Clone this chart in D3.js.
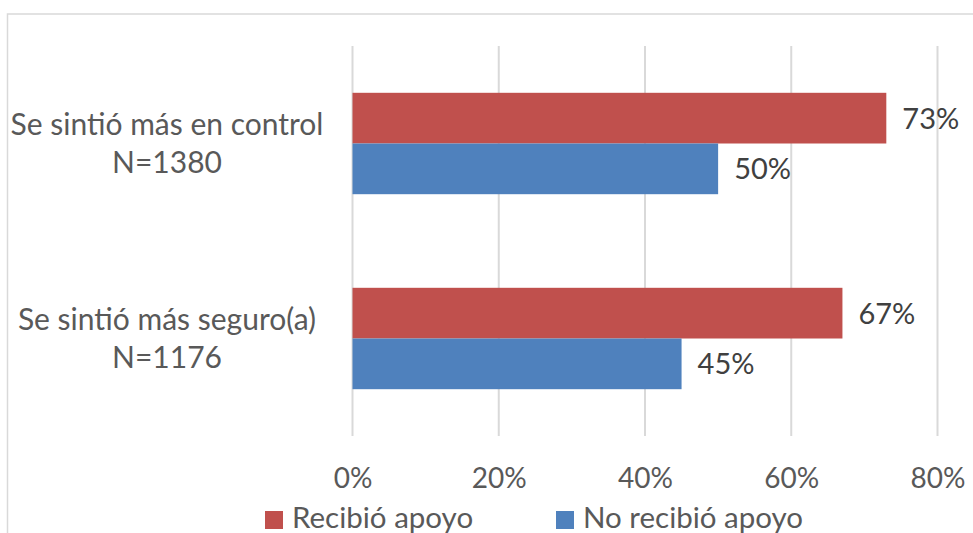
<!DOCTYPE html>
<html>
<head>
<meta charset="utf-8">
<script src="https://cdn.jsdelivr.net/npm/d3@7"></script>
<style>
  html, body { margin: 0; padding: 0; background: #fff; overflow: hidden; }
  svg { display: block; }
  text { font-family: Lato, "Open Sans", sans-serif; }
</style>
</head>
<body>
<svg id="chart" width="973" height="533"></svg>
<script>
// Category labels (two lines each), top to bottom
const categories = ["Se sintió más en control", "Se sintió más seguro(a)"];
const categoryN = ["N=1380", "N=1176"];
// Series
const seriesNames = ["Recibió apoyo", "No recibió apoyo"];
const seriesColors = ["#C0504D", "#4F81BD"];
const recibio = [73, 67];
const noRecibio = [50, 45];
const tickValues = [0, 20, 40, 60, 80];

const svg = d3.select("#chart");

// Chart frame
svg.append("rect")
  .attr("x", 7.5).attr("y", 14)
  .attr("width", 980).attr("height", 540)
  .attr("fill", "none").attr("stroke", "#d9d9d9").attr("stroke-width", 1.5);

const plot = { left: 352.5, right: 937.5, top: 46, bottom: 436 };

const x = d3.scaleLinear().domain([0, 80]).range([plot.left, plot.right]);
const y = d3.scaleBand().domain(categories).range([plot.top, plot.bottom]).paddingInner(0.48).paddingOuter(0.24);
const ySub = d3.scaleBand().domain(seriesNames).range([0, y.bandwidth()]);

// Vertical gridlines
svg.append("g").selectAll("line").data(tickValues).join("line")
  .attr("x1", d => x(d)).attr("x2", d => x(d))
  .attr("y1", plot.top).attr("y2", plot.bottom)
  .attr("stroke", "#d9d9d9").attr("stroke-width", 2);

// Tick labels
const xAxis = d3.axisBottom(x).tickValues(tickValues).tickFormat(d => d + "%").tickSize(0).tickPadding(0);
const ax = svg.append("g").attr("transform", `translate(0,${plot.bottom})`).call(xAxis);
ax.select(".domain").remove();
ax.selectAll("text")
  .attr("y", 52).attr("dy", null)
  .attr("fill", "#595959")
  .style("font-size", "28px")
  .style("font-family", "Lato, sans-serif");

// Bars
const rows = categories.map((c, i) => ({ cat: c, vals: [recibio[i], noRecibio[i]] }));
const groups = svg.append("g").selectAll("g").data(rows).join("g")
  .attr("transform", d => `translate(0,${y(d.cat)})`);

groups.selectAll("rect").data(d => d.vals.map((v, j) => ({ v, s: seriesNames[j], c: seriesColors[j] })))
  .join("rect")
  .attr("x", x(0))
  .attr("y", d => ySub(d.s))
  .attr("width", d => x(d.v) - x(0))
  .attr("height", ySub.bandwidth())
  .attr("fill", d => d.c);

// Value labels
groups.selectAll("text.val").data(d => d.vals.map((v, j) => ({ v, s: seriesNames[j] })))
  .join("text").attr("class", "val")
  .attr("x", d => x(d.v) + 16)
  .attr("y", d => ySub(d.s) + ySub.bandwidth() / 2)
  .attr("dy", "0.36em")
  .attr("fill", "#404040")
  .style("font-size", "29px")
  .text(d => d.v + "%");

// Category labels
const catG = svg.append("g").selectAll("text").data(categories).join("text")
  .attr("text-anchor", "middle")
  .attr("x", 167)
  .attr("y", d => y(d) + y.bandwidth() / 2)
  .attr("fill", "#595959")
  .style("font-size", "30px");
catG.append("tspan").attr("x", 167).attr("dy", "-0.28em").text(d => d);
catG.append("tspan").attr("x", 167).attr("dy", "1.27em").text((d, i) => categoryN[i]);

// Legend
const legendX = [265, 556];
const lg = svg.append("g").selectAll("g").data(seriesNames).join("g")
  .attr("transform", (d, i) => `translate(${legendX[i]},511)`);
lg.append("rect").attr("width", 18).attr("height", 18).attr("fill", (d, i) => seriesColors[i]);
lg.append("text").attr("x", 27).attr("y", 17)
  .attr("fill", "#595959").style("font-size", "29.5px").text(d => d);
</script>
</body>
</html>
